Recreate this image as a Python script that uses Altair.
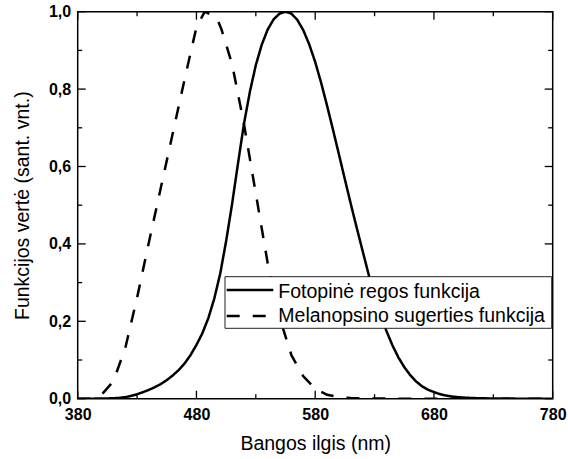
import altair as alt
import pandas as pd

# ---------------- data ----------------
series_names = ["Fotopinė regos funkcija", "Melanopsino sugerties funkcija"]

phot_wl = list(range(380, 781, 5))
phot_val = [
    0.000039, 0.000064, 0.00012, 0.000217, 0.000396, 0.00064, 0.00121, 0.00218,
    0.004, 0.0073, 0.0116, 0.01684, 0.023, 0.0298, 0.038, 0.048, 0.06, 0.0739,
    0.09098, 0.1126, 0.13902, 0.1693, 0.20802, 0.2586, 0.323, 0.4073, 0.503,
    0.6082, 0.71, 0.7932, 0.862, 0.91485, 0.954, 0.9803, 0.99495, 1.0, 0.995,
    0.9786, 0.952, 0.9154, 0.87, 0.8163, 0.757, 0.6949, 0.631, 0.5668, 0.503,
    0.4412, 0.381, 0.321, 0.265, 0.217, 0.175, 0.1382, 0.107, 0.0816, 0.061,
    0.04458, 0.032, 0.0232, 0.017, 0.01192, 0.00821, 0.005723, 0.004102,
    0.002929, 0.002091, 0.001484, 0.001047, 0.00074, 0.00052, 0.000361,
    0.000249, 0.000172, 0.00012, 0.0000848, 0.00006, 0.0000424, 0.00003,
    0.0000212, 0.000015,
]

mel_wl = [380, 390, 400, 410, 420, 430, 440, 450, 460, 470, 480, 487, 497, 501,
          510, 520, 530, 540, 550, 560, 570, 580, 590, 600, 610, 620, 640, 660,
          700, 780]
mel_val = [0.0, 0.0, 0.01, 0.045, 0.13, 0.261, 0.405, 0.545, 0.685, 0.825, 0.96,
           1.0, 0.985, 0.955, 0.865, 0.71, 0.53, 0.35, 0.21, 0.112, 0.058, 0.026,
           0.01, 0.004, 0.002, 0.001, 0.0003, 0.0, 0.0, 0.0]

x_major = [380, 480, 580, 680, 780]
x_minor = [430, 530, 630, 730]
y_major = [0.0, 0.2, 0.4, 0.6, 0.8, 1.0]
y_minor = [0.1, 0.3, 0.5, 0.7, 0.9]

x_title = "Bangos ilgis (nm)"
y_title = "Funkcijos vertė (sant. vnt.)"

# ---------------- build ----------------
W, H = 475, 387
FONT = "Liberation Sans"

df = pd.concat([
    pd.DataFrame({"wl": phot_wl, "val": phot_val, "series": series_names[0]}),
    pd.DataFrame({"wl": mel_wl, "val": mel_val, "series": series_names[1]}),
])

xs = alt.Scale(domain=[380, 780], nice=False, zero=False)
ys = alt.Scale(domain=[0, 1], nice=False, zero=False)

x_axis = alt.Axis(
    values=x_major, format="d", ticks=False, domain=False, grid=False,
    labelFlush=False, labelOverlap=False,
    labelFont=FONT, labelFontSize=16, labelFontWeight="bold", labelColor="black",
    labelPadding=8, titleFont=FONT, titleFontSize=19.5,
    titleFontWeight="normal", titleColor="black", titlePadding=12,
)
y_axis = alt.Axis(
    values=y_major, labelExpr="replace(format(datum.value, '.1f'), '.', ',')",
    ticks=False, domain=False, grid=False,
    labelFlush=False, labelOverlap=False,
    labelFont=FONT, labelFontSize=16, labelFontWeight="bold", labelColor="black",
    labelPadding=7, titleFont=FONT, titleFontSize=19.5,
    titleFontWeight="normal", titleColor="black", titlePadding=16,
)

def X(field):
    return alt.X(field, scale=xs, axis=x_axis, title=x_title)

def Y(field):
    return alt.Y(field, scale=ys, axis=y_axis, title=y_title)

lines = alt.Chart(df).mark_line(strokeWidth=2.5, color="black", clip=True).encode(
    x=X("wl:Q"),
    y=Y("val:Q"),
    strokeDash=alt.StrokeDash(
        "series:N",
        scale=alt.Scale(domain=series_names, range=[[1, 0], [13, 13]]),
        legend=None,
    ),
)

def xticks(vals, length):
    d = pd.DataFrame({"t": vals})
    bottom = alt.Chart(d).mark_rule(color="black", strokeWidth=1.3).encode(
        x=X("t:Q"), y=alt.value(H), y2=alt.value(H - length))
    top = alt.Chart(d).mark_rule(color="black", strokeWidth=1.3).encode(
        x=X("t:Q"), y=alt.value(0), y2=alt.value(length))
    return [bottom, top]

def yticks(vals, length):
    d = pd.DataFrame({"t": vals})
    left = alt.Chart(d).mark_rule(color="black", strokeWidth=1.3).encode(
        y=Y("t:Q"), x=alt.value(0), x2=alt.value(length))
    right = alt.Chart(d).mark_rule(color="black", strokeWidth=1.3).encode(
        y=Y("t:Q"), x=alt.value(W), x2=alt.value(W - length))
    return [left, right]

ticks = xticks(x_major, 8) + xticks(x_minor, 4.5) + yticks(y_major, 8) + yticks(y_minor, 4.5)

# ---------------- legend (manual) ----------------
LX0, LX1, LY0, LY1 = 147.3, 474, 265, 316.6
one = pd.DataFrame({"a": [0]})
box = alt.Chart(one).mark_rect(
    fill="white", stroke="#222", strokeWidth=1).encode(
    x=alt.value(LX0), x2=alt.value(LX1), y=alt.value(LY0), y2=alt.value(LY1))
leg_sym1 = alt.Chart(one).mark_rule(
    color="black", strokeWidth=2.5).encode(
    x=alt.value(149), x2=alt.value(195.6), y=alt.value(278.3))
leg_sym2 = alt.Chart(one).mark_rule(
    color="black", strokeWidth=2.5, strokeDash=[13, 13]).encode(
    x=alt.value(149), x2=alt.value(195.6), y=alt.value(304.3))
leg_txt1 = alt.Chart(one).mark_text(
    font=FONT, fontSize=19.5, align="left", baseline="alphabetic", color="black").encode(
    x=alt.value(200.6), y=alt.value(286), text=alt.value(series_names[0]))
leg_txt2 = alt.Chart(one).mark_text(
    font=FONT, fontSize=19.5, align="left", baseline="alphabetic", color="black").encode(
    x=alt.value(200.6), y=alt.value(310), text=alt.value(series_names[1]))

chart = alt.layer(
    lines, *ticks, box, leg_sym1, leg_sym2, leg_txt1, leg_txt2
).properties(
    width=W, height=H,
    autosize=alt.AutoSizeParams(type="none"),
    padding={"left": 77.7, "top": 11.7, "right": 15.3, "bottom": 60.3},
    background="white",
).configure_view(
    stroke="black", strokeWidth=1.5,
)

chart.save("out.html", embed_options={"renderer": "svg", "actions": False})
